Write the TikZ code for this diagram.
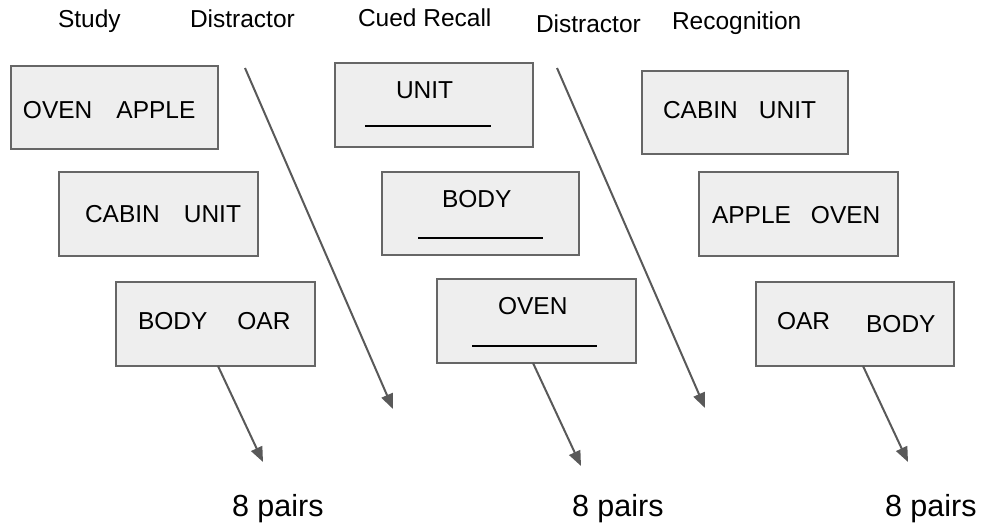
\documentclass[tikz,border=0pt]{standalone}
\usepackage{fontspec}
\setmainfont{Liberation Sans}
\usetikzlibrary{arrows.meta}
\definecolor{boxfill}{HTML}{EEEEEE}
\definecolor{boxline}{HTML}{666666}
\definecolor{arrowgray}{HTML}{595959}
\begin{document}
\begin{tikzpicture}[x=1pt,y=-1pt,
  box/.style={draw=boxline,fill=boxfill,line width=1.8pt,inner sep=0pt,outer sep=0pt},
  lbl/.style={anchor=base west,inner sep=0pt,outer sep=0pt,font=\fontsize{24.5}{28}\selectfont},
  big/.style={anchor=base west,inner sep=0pt,outer sep=0pt,font=\fontsize{30.5}{34}\selectfont},
  conn/.style={draw=arrowgray,line width=2pt,-{Triangle[length=15pt,width=12pt]}},
  blank/.style={draw=black,line width=2pt}]
\useasboundingbox (0,0) rectangle (982,524);

% headers
\node[lbl] (hstudy) at (58,28) {Study};
\node[lbl] (hdis1) at (190,28) {Distractor};
\node[lbl] (hcued) at (358,27) {Cued Recall};
\node[lbl] (hdis2) at (536,33) {Distractor};
\node[lbl] (hrec) at (672,30) {Recognition};

% study boxes
\node[box,minimum width=207pt,minimum height=83pt] (s1) at (114.5,107.5) {};
\node[box,minimum width=199pt,minimum height=84pt] (s2) at (158.5,214) {};
\node[box,minimum width=199pt,minimum height=84pt] (s3) at (215.5,324) {};
\node[lbl] (s1t) at (23,119) {OVEN\hspace{24pt}APPLE};
\node[lbl] (s2t) at (85,222) {CABIN\hspace{24pt}UNIT};
\node[lbl] (s3t) at (138,329) {BODY\hspace{30pt}OAR};

% cued recall boxes
\node[box,minimum width=198pt,minimum height=84pt] (c1) at (434,105) {};
\node[box,minimum width=197pt,minimum height=83pt] (c2) at (480.5,213.5) {};
\node[box,minimum width=199pt,minimum height=84pt] (c3) at (536.5,321) {};
\node[lbl] (c1t) at (396,99) {UNIT};
\node[lbl] (c2t) at (442,207) {BODY};
\node[lbl] (c3t) at (498,314) {OVEN};
\coordinate (u1a) at (365,126); \coordinate (u1b) at (491,126);
\coordinate (u2a) at (418,238); \coordinate (u2b) at (543,238);
\coordinate (u3a) at (472,346); \coordinate (u3b) at (597,346);
\draw[blank] (u1a) -- (u1b);
\draw[blank] (u2a) -- (u2b);
\draw[blank] (u3a) -- (u3b);

% recognition boxes
\node[box,minimum width=206pt,minimum height=83pt] (r1) at (745,112.5) {};
\node[box,minimum width=199pt,minimum height=84pt] (r2) at (798.5,214) {};
\node[box,minimum width=198pt,minimum height=84pt] (r3) at (855,324) {};
\node[lbl] (r1t) at (663,119) {CABIN\hspace{21pt}UNIT};
\node[lbl] (r2t) at (712,223) {APPLE\hspace{20pt}OVEN};
\node[lbl] (r3t) at (777,329) {OAR\hspace{36pt}\raisebox{-3pt}{BODY}};

% 8 pairs
\node[big] (p1) at (232,516) {8 pairs};
\node[big] (p2) at (572,516) {8 pairs};
\node[big] (p3) at (885,516) {8 pairs};

% arrows
\coordinate (d1a) at (245,68); \coordinate (d1b) at (393,409);
\coordinate (d2a) at (557,68); \coordinate (d2b) at (705,408);
\coordinate (e1) at (263,462);
\coordinate (e2) at (581,466);
\coordinate (e3) at (908,462);
\draw[conn] (d1a) -- (d1b);
\draw[conn] (d2a) -- (d2b);
\draw[conn] ([xshift=2.5pt]s3.south) -- (e1);
\draw[conn] ([xshift=-3.5pt]c3.south) -- (e2);
\draw[conn] ([xshift=8pt]r3.south) -- (e3);
\end{tikzpicture}
\end{document}
